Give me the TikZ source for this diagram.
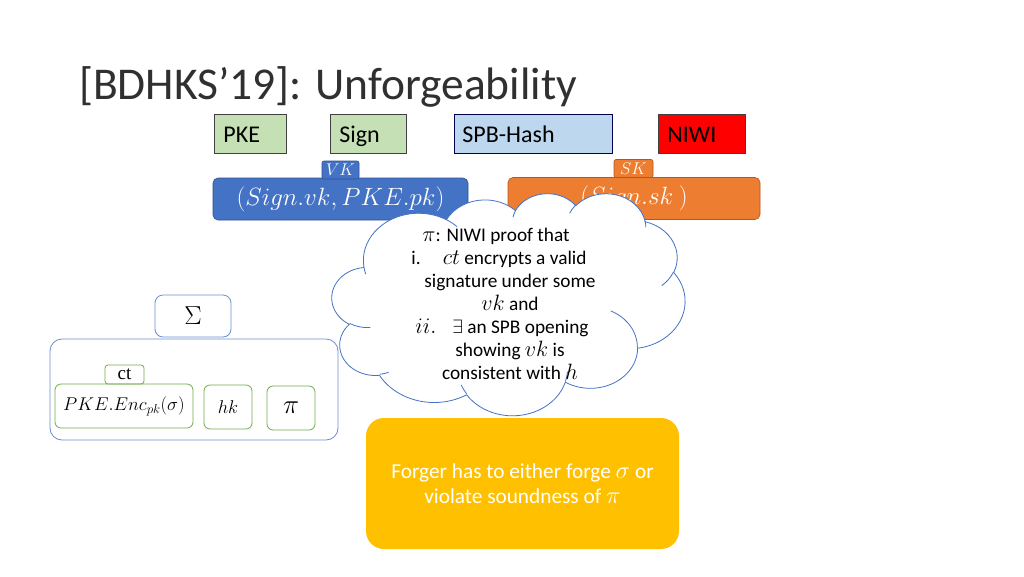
\RequirePackage{fix-cm}
\documentclass[tikz,border=0pt]{standalone}
\usepackage{graphicx}
\usepackage{fontspec}
\setmainfont{Carlito}
\newfontfamily\serifct{Liberation Serif}
\newcommand\mx[1]{\scalebox{1.15}{$#1$}}
\newcommand\cldcalc[5]{%
  \pgfmathsetmacro\cldA{atan2(#2*sin(#4), #3*cos(#4))}%
  \pgfmathsetmacro\cldB{atan2(#2*sin(#4+#5), #3*cos(#4+#5))}%
  \pgfmathsetmacro\cldD{mod(\cldB-\cldA+720,360)}%
  \expandafter\xdef\csname cldS#1\endcsname{\cldA}%
  \expandafter\xdef\csname cldD#1\endcsname{\cldD}}
\definecolor{oblue}{HTML}{4472C4}
\definecolor{oblueD}{HTML}{2F528F}
\definecolor{oorange}{HTML}{ED7D31}
\definecolor{oorangeD}{HTML}{AE5A21}
\definecolor{lgreen}{HTML}{C5E0B4}
\definecolor{lblue}{HTML}{BDD7EE}
\definecolor{ogreen}{HTML}{70AD47}
\definecolor{oyellow}{HTML}{FFC000}
\definecolor{ttl}{HTML}{303030}
\tikzset{
  prim/.style={draw=black!75, line width=0.8pt, minimum height=39pt, inner xsep=9pt,
    text width=#1, align=left, anchor=west, text height=19pt, text depth=2pt,
    font=\fontsize{24}{28}\selectfont},
  keytag/.style={rounded corners=2pt, line width=0.6pt, minimum width=#1, minimum height=18pt,
    inner sep=0pt, text=white, font=\fontsize{17}{20}\selectfont},
  keybox/.style={rounded corners=5pt, line width=0.6pt, minimum height=42pt,
    minimum width=#1, inner sep=0pt, text=white, font=\fontsize{25}{29}\selectfont},
  bluebox/.style={draw=oblue!80, line width=0.8pt, inner sep=0pt},
  grbox/.style={draw=ogreen, line width=0.8pt, inner sep=0pt, rounded corners=6pt,
    minimum height=44pt, minimum width=#1},
  cloudline/.style={draw=oblue, line width=0.8pt},
}
\begin{document}
\begin{tikzpicture}[x=1pt,y=-1pt]
\useasboundingbox[fill=white] (0,0) rectangle (1024,576);

\node[anchor=base west, inner sep=0pt, text=ttl, font=\fontsize{45.5}{52}\selectfont]
  (title) at (79,99) {[BDHKS’19]: Unforgeability};

\node[prim=54pt, fill=lgreen] (pke) at (214,133.5) {PKE};
\node[prim=58pt, fill=lgreen] (sign) at (330,133.5) {Sign};
\node[prim=142pt, fill=lblue, draw=black!70!blue, inner xsep=8pt] (spb) at (454,133.5) {SPB-Hash};
\node[prim=69pt, fill=red] (niwi) at (658,133.5) {NIWI};

\node[keybox=255pt, fill=oblue, draw=oblueD] (vkbox) at (340.5,199) {$(Sign.vk, PKE.pk)$};
\node[keytag=37pt, fill=oblue, draw=oblueD] (vk) at (340.5,170) {$VK$};
\node[keybox=252pt, fill=oorange, draw=oorangeD] (skbox) at (634,198.5) {$(Sign.sk\ )$};
\node[keytag=39pt, fill=oorange, draw=oorangeD] (sk) at (633.5,168.5) {$SK$};

% cloud (outline + inner arcs)
\cldcalc{oa}{6753}{9190}{-190.4875}{123.7805}
\cldcalc{ob}{5333}{7267}{-144.1024}{89.9452}
\cldcalc{oc}{4365}{5945}{-145.8079}{99.7230}
\cldcalc{od}{4857}{6595}{-130.9861}{117.2417}
\cldcalc{oe}{5333}{7273}{-78.7089}{109.0269}
\cldcalc{of}{6775}{9220}{-46.2673}{130.2690}
\cldcalc{og}{5785}{7867}{0.6250}{114.0333}
\cldcalc{oh}{6752}{9215}{22.4516}{115.1726}
\cldcalc{oi}{7720}{10543}{66.2426}{75.7110}
\cldcalc{oj}{4360}{5918}{-274.9421}{146.7356}
\cldcalc{ok}{4345}{5945}{-246.8285}{152.5189}
\cldcalc{ia}{4345}{5945}{86.7420}{26.4295}
\cldcalc{ib}{4360}{5918}{73.6105}{11.4475}
\cldcalc{ic}{6752}{9215}{137.6242}{14.0811}
\cldcalc{id}{6752}{9215}{6.4533}{15.9984}
\cldcalc{ie}{5785}{7867}{-70.2924}{70.9174}
\cldcalc{if}{5333}{7273}{30.3180}{27.7515}
\cldcalc{ig}{4857}{6595}{-13.7443}{14.8589}
\cldcalc{ih}{4857}{6595}{-149.1815}{18.1954}
\cldcalc{ii}{4365}{5945}{-163.4943}{17.6864}
\cldcalc{ij}{6753}{9190}{-66.7070}{12.3194}
\cldcalc{ik}{6753}{9190}{157.6544}{11.8605}
\begin{scope}[shift={(332,193)}, x=0.8171pt, y=-0.5139pt]
\draw[cloudline, fill=white] (39,143.7)
  arc[start angle=\cldSoa, delta angle=\cldDoa, x radius=67.53, y radius=91.90]
  arc[start angle=\cldSob, delta angle=\cldDob, x radius=53.33, y radius=72.67]
  arc[start angle=\cldSoc, delta angle=\cldDoc, x radius=43.65, y radius=59.45]
  arc[start angle=\cldSod, delta angle=\cldDod, x radius=48.57, y radius=65.95]
  arc[start angle=\cldSoe, delta angle=\cldDoe, x radius=53.33, y radius=72.73]
  arc[start angle=\cldSof, delta angle=\cldDof, x radius=67.75, y radius=92.20]
  arc[start angle=\cldSog, delta angle=\cldDog, x radius=57.85, y radius=78.67]
  arc[start angle=\cldSoh, delta angle=\cldDoh, x radius=67.52, y radius=92.15]
  arc[start angle=\cldSoi, delta angle=\cldDoi, x radius=77.20, y radius=105.43]
  arc[start angle=\cldSoj, delta angle=\cldDoj, x radius=43.60, y radius=59.18]
  arc[start angle=\cldSok, delta angle=\cldDok, x radius=43.45, y radius=59.45]
  -- cycle;
\draw[cloudline] (46.93,261.77) arc[start angle=\cldSia, delta angle=\cldDia, x radius=43.45, y radius=59.45];
\draw[cloudline] (69.28,348.99) arc[start angle=\cldSib, delta angle=\cldDib, x radius=43.60, y radius=59.18];
\draw[cloudline] (164.78,390.90) arc[start angle=\cldSic, delta angle=\cldDic, x radius=67.52, y radius=92.15];
\draw[cloudline] (288.27,347.51) arc[start angle=\cldSid, delta angle=\cldDid, x radius=67.52, y radius=92.15];
\draw[cloudline] (341.29,229.54) arc[start angle=\cldSie, delta angle=\cldDie, x radius=57.85, y radius=78.67];
\draw[cloudline] (417.98,153.54) arc[start angle=\cldSif, delta angle=\cldDif, x radius=53.33, y radius=72.73];
\draw[cloudline] (383.24,54.26) arc[start angle=\cldSig, delta angle=\cldDig, x radius=48.57, y radius=65.95];
\draw[cloudline] (290.78,39.52) arc[start angle=\cldSih, delta angle=\cldDih, x radius=48.57, y radius=65.95];
\draw[cloudline] (221.41,47.20) arc[start angle=\cldSii, delta angle=\cldDii, x radius=43.65, y radius=59.45];
\draw[cloudline] (140.00,51.92) arc[start angle=\cldSij, delta angle=\cldDij, x radius=67.53, y radius=91.90];
\draw[cloudline] (41.27,157.89) arc[start angle=\cldSik, delta angle=\cldDik, x radius=67.53, y radius=91.90];
\end{scope}
\node[align=center, inner sep=0pt, font=\fontsize{19.3}{23}\selectfont] (cloudtext) at (510,304)
  {\mx{\pi}: NIWI proof that\hspace{28pt}\mbox{}\\
   i.\hspace{22pt}\mx{ct} encrypts a valid\hspace{22pt}\mbox{}\\
   signature under some\\
   \mx{vk} and\\
   \mx{ii.}\hspace{16pt}$\exists$ an SPB opening\hspace{16pt}\mbox{}\\
   showing \mx{vk} is\\
   consistent with \mx{h}};

\node[bluebox, rounded corners=8pt, minimum width=76pt, minimum height=42pt,
  font=\fontsize{26}{30}\selectfont] (sigma) at (193,316) {$\Sigma$};
\node[bluebox, rounded corners=12pt, minimum width=288pt, minimum height=101pt] (sigbox) at (194,389.5) {};

\node[grbox=39pt, minimum height=19pt, rounded corners=3pt, font=\serifct\fontsize{19}{20}\selectfont] (ct) at (124.5,374.5) {ct};
\node[grbox=138pt, font=\fontsize{18.5}{21}\selectfont] (enc) at (124,406) {$PKE.Enc_{pk}(\sigma)$};
\node[grbox=48pt, font=\fontsize{18.5}{21}\selectfont] (hk) at (228,407) {$hk$};
\node[grbox=48pt, font=\fontsize{27}{30}\selectfont] (pi) at (291,408) {$\pi$};

\node[fill=oyellow, rounded corners=18pt, minimum width=313pt, minimum height=131pt, inner sep=0pt,
  text=white, align=center, font=\fontsize{21.3}{25}\selectfont] (forger) at (522.5,483.5)
  {Forger has to either forge \mx{\sigma} or\\violate soundness of \mx{\pi}};
\end{tikzpicture}
\end{document}
